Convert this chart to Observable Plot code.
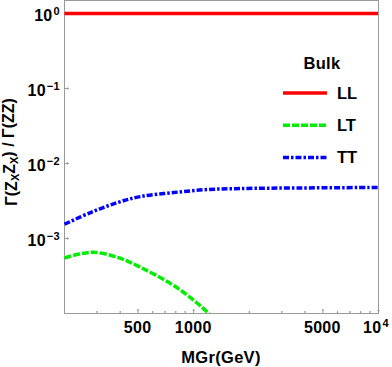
<!DOCTYPE html>
<html><head><meta charset="utf-8">
<script src="https://cdn.jsdelivr.net/npm/d3@7"></script>
<script src="https://cdn.jsdelivr.net/npm/@observablehq/plot@0.6"></script>
<style>
body{margin:0;background:#fff;}
#chart svg{font-family:"Liberation Sans",Arial,sans-serif;display:block;}
</style>
</head><body><div id="chart"></div>
<script>
// Data
const seriesNames = ["LL", "LT", "TT"];
const seriesColors = ["#ff0000", "#00ee00", "#0000ff"];
const seriesDashes = [null, "7,2", "6,2,2.5,2"];
const llX = [200, 10000];
const llY = [1.0, 1.0];
const ltX = [200, 240, 288, 388, 518, 780, 1051, 1206, 1300];
const ltY = [5.5e-4, 6.2e-4, 6.55e-4, 5.6e-4, 4.1e-4, 2.36e-4, 1.36e-4, 1.0e-4, 8.5e-5];
const ttX = [200, 277, 388, 518, 780, 1190, 1795, 3780, 10000];
const ttY = [1.55e-3, 2.22e-3, 3.02e-3, 3.63e-3, 4.1e-3, 4.5e-3, 4.64e-3, 4.72e-3, 4.79e-3];
const xMajor = [500, 1000, 5000, 10000];
const xMajorLabels = [["500", ""], ["1000", ""], ["5000", ""], ["10", "4"]];
const xMinor = [300, 400, 600, 700, 800, 900, 2000, 3000, 4000, 6000, 7000, 8000, 9000];
const yMajor = [1, 0.1, 0.01, 0.001];
const yMajorLabels = [["10", "0"], ["10", "\u22121"], ["10", "\u22122"], ["10", "\u22123"]];
const xLabel = "MGr(GeV)";
const legendTitle = "Bulk";

const toRows = (xs, ys) => xs.map((x, i) => ({x, y: ys[i]}));
const axisColor = "#9a9a9a";

const chart = Plot.plot({
  width: 392, height: 367,
  marginLeft: 64, marginRight: 14, marginTop: 0, marginBottom: 54,
  x: {type: "log", domain: [200, 10000], axis: null},
  y: {type: "log", domain: [1e-4, 1.49], axis: null},
  marks: [
    Plot.frame({stroke: axisColor, strokeWidth: 1}),
    Plot.vector(xMinor, {x: d => d, frameAnchor: "bottom", length: 2, rotate: 0, anchor: "start", stroke: axisColor, strokeWidth: 1}),
    Plot.vector(xMajor, {x: d => d, frameAnchor: "bottom", length: 4, rotate: 0, anchor: "start", stroke: axisColor, strokeWidth: 1}),
    Plot.vector(yMajor, {y: d => d, frameAnchor: "left", length: 4, rotate: 90, anchor: "start", stroke: axisColor, strokeWidth: 1}),
    Plot.line(toRows(llX, llY), {x: "x", y: "y", stroke: seriesColors[0], strokeWidth: 3.5, strokeLinecap: "butt", clip: "frame"}),
    Plot.line(toRows(ltX, ltY), {x: "x", y: "y", stroke: seriesColors[1], strokeWidth: 3.5, strokeLinecap: "butt", strokeDasharray: seriesDashes[1], curve: "catmull-rom", clip: "frame"}),
    Plot.line(toRows(ttX, ttY), {x: "x", y: "y", stroke: seriesColors[2], strokeWidth: 3.5, strokeLinecap: "butt", strokeDasharray: seriesDashes[2], curve: "catmull-rom", clip: "frame"})
  ]
});
document.getElementById("chart").appendChild(chart);

const sx = chart.scale("x"), sy = chart.scale("y");
const svg = d3.select(chart);
const bottomY = sy.apply(1e-4), leftX = sx.apply(200), rightX = sx.apply(10000);

function tickLabel(x, y, anchor, parts) {
  const t = svg.append("text").attr("x", x).attr("y", y).attr("dy", "0.35em")
    .attr("text-anchor", anchor).attr("font-weight", "bold").attr("font-size", 16)
    .attr("letter-spacing", "0.3px").attr("fill", "#000");
  t.append("tspan").text(parts[0]);
  if (parts[1]) t.append("tspan").attr("font-size", 11).attr("dy", "-0.55em").attr("dx", 1).text(parts[1]);
}
xMajor.forEach((v, i) => tickLabel(sx.apply(v) - (xMajorLabels[i][1] ? 2 : 0), bottomY + 14, "middle", xMajorLabels[i]));
yMajor.forEach((v, i) => tickLabel(leftX - 4, sy.apply(v) + 2, "end", yMajorLabels[i]));

// x-axis label
svg.append("text").attr("x", (leftX + rightX) / 2).attr("y", 357).attr("dy", "0.35em")
  .attr("text-anchor", "middle").attr("font-weight", "bold").attr("font-size", 16.5)
  .attr("letter-spacing", "0.3px").attr("fill", "#000").text(xLabel);
// y-axis label with subscripts
const yl = svg.append("text").attr("transform", "translate(11,152) rotate(-90)")
  .attr("dy", "0.35em").attr("text-anchor", "middle").attr("font-weight", "bold")
  .attr("font-size", 16).attr("fill", "#000");
yl.append("tspan").text("\u0393(Z");
yl.append("tspan").attr("font-size", 11).attr("dy", "0.25em").text("X");
yl.append("tspan").attr("dy", "-0.25em").text("Z");
yl.append("tspan").attr("font-size", 11).attr("dy", "0.25em").text("X");
yl.append("tspan").attr("dy", "-0.25em").text(") / \u0393(ZZ)");
// legend
const lg = svg.append("g");
lg.append("text").attr("x", 322).attr("y", 63).attr("dy", "0.35em").attr("text-anchor", "middle")
  .attr("font-weight", "bold").attr("font-size", 16.5).attr("letter-spacing", "0.3px")
  .attr("fill", "#000").text(legendTitle);
seriesNames.forEach((name, i) => {
  const yy = 93 + i * 32.3;
  lg.append("line").attr("x1", 283).attr("x2", 327).attr("y1", yy).attr("y2", yy)
    .attr("stroke", seriesColors[i]).attr("stroke-width", 3.5)
    .attr("stroke-dasharray", seriesDashes[i]);
  lg.append("text").attr("x", 337).attr("y", yy).attr("dy", "0.35em").attr("text-anchor", "start")
    .attr("font-weight", "bold").attr("font-size", 16.5).attr("fill", "#000").text(name);
});
</script>
</body></html>
